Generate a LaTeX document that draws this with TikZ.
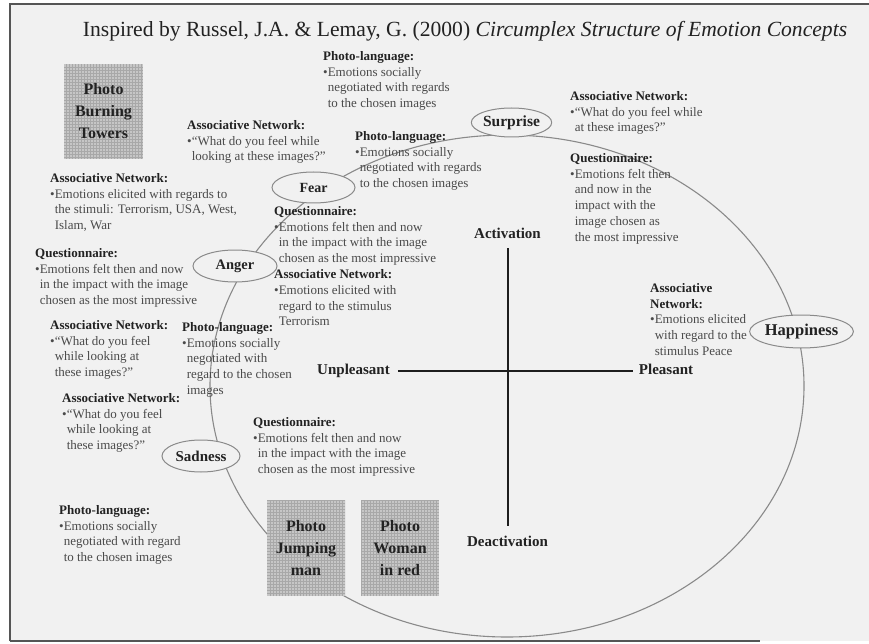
\documentclass[tikz,border=0pt]{standalone}
\usepackage{fontspec}
\setmainfont{Liberation Serif}
\usetikzlibrary{shapes.geometric}
\definecolor{bg}{HTML}{F1F1F1}
\definecolor{ringcol}{HTML}{8A8A8A}
\definecolor{headtxt}{HTML}{222222}
\definecolor{bodytxt}{HTML}{4A4A4A}
\definecolor{photofill}{HTML}{C6C6C6}
\definecolor{photogrid}{HTML}{A8A8A8}
\definecolor{framecol}{HTML}{555555}
\definecolor{axiscol}{HTML}{1E1E1E}
\newcommand\hdg[1]{{\color{headtxt}\bfseries #1}}
\newcommand\bind{\phantom{•}}
\begin{document}
\begin{tikzpicture}[x=1pt,y=-1pt,
  body/.style={anchor=north west,inner sep=0pt,align=left,text=bodytxt,font=\fontsize{13}{15.8}\selectfont},
  emo/.style={ellipse,draw=ringcol,line width=1pt,fill=bg,inner sep=0pt,text=headtxt},
  axlab/.style={font=\bfseries\fontsize{15}{18}\selectfont,text=headtxt,inner sep=0pt,text height=10pt,text depth=3pt},
  axisline/.style={draw=axiscol,line width=2pt},
  photo/.style={rectangle,fill=photofill,minimum width=78pt,minimum height=96pt,inner sep=0pt,align=center,
    font=\bfseries\fontsize{16}{22}\selectfont,text=headtxt,
    path picture={\draw[photogrid,line width=0.5pt,step=3pt] (path picture bounding box.south west) grid (path picture bounding box.north east);}},
  framestyle/.style={draw=framecol,line width=2pt}
]
\useasboundingbox (0,0) rectangle (869,644);
\fill[white] (0,0) rectangle (869,644);
\fill[bg] (10,4) rectangle (869,641);
\draw[framestyle] (10,641) -- (10,4) -- (869,4);
\draw[framestyle] (10,641) -- (760,641);

% title
\node[anchor=base,inner sep=0pt,font=\fontsize{21.6}{26}\selectfont,text=headtxt] (title) at (465,37)
  {Inspired by Russel, J.A. \& Lemay, G. (2000) \textit{Circumplex Structure of Emotion Concepts}};

% circumplex ring
\node[ellipse,draw=ringcol,line width=1.1pt,minimum width=594pt,minimum height=502pt,inner sep=0pt] (ring) at (507,386) {};

% photos
\node[photo,minimum width=79pt,minimum height=95pt] (burn) at (103.5,111.5) {Photo\\Burning\\Towers};
\node[photo] (jump) at (306,548) {Photo\\Jumping\\man};
\node[photo] (woman) at (400,548) {Photo\\Woman\\in red};

% text blocks
\node[body] (b1) at (323,51) {\hdg{Photo-language:}\\•Emotions socially\\\bind negotiated with regards\\\bind to the chosen images};
\node[body] (b2) at (187,120) {\hdg{Associative Network:}\\•“What do you feel while\\\bind looking at these images?”};
\node[body] (b3) at (355,131) {\hdg{Photo-language:}\\•Emotions socially\\\bind negotiated with regards\\\bind to the chosen images};
\node[body] (b4) at (570,91) {\hdg{Associative Network:}\\•“What do you feel while\\\bind at these images?”};
\node[body] (b5) at (570,153) {\hdg{Questionnaire:}\\•Emotions felt then\\\bind and now in the\\\bind impact with the\\\bind image chosen as\\\bind the most impressive};
\node[body] (b6) at (50,173) {\hdg{Associative Network:}\\•Emotions elicited with regards to\\\bind the stimuli: Terrorism, USA, West,\\\bind Islam, War};
\node[body] (b7) at (274,206) {\hdg{Questionnaire:}\\•Emotions felt then and now\\\bind in the impact with the image\\\bind chosen as the most impressive\\\hdg{Associative Network:}\\•Emotions elicited with\\\bind regard to the stimulus\\\bind Terrorism};
\node[body] (b8) at (35,248) {\hdg{Questionnaire:}\\•Emotions felt then and now\\\bind in the impact with the image\\\bind chosen as the most impressive};
\node[body] (b9) at (50,320) {\hdg{Associative Network:}\\•“What do you feel\\\bind while looking at\\\bind these images?”};
\node[body] (b10) at (182,322) {\hdg{Photo-language:}\\•Emotions socially\\\bind negotiated with\\\bind regard to the chosen\\\bind images};
\node[body] (b11) at (62,393) {\hdg{Associative Network:}\\•“What do you feel\\\bind while looking at\\\bind these images?”};
\node[body] (b12) at (253,417) {\hdg{Questionnaire:}\\•Emotions felt then and now\\\bind in the impact with the image\\\bind chosen as the most impressive};
\node[body] (b13) at (59,505) {\hdg{Photo-language:}\\•Emotions socially\\\bind negotiated with regard\\\bind to the chosen images};
\node[body] (b14) at (650,283) {\hdg{Associative}\\\hdg{Network:}\\•Emotions elicited\\\bind with regard to the\\\bind stimulus Peace};

% emotions
\node[emo,minimum width=77pt,minimum height=29pt,font=\bfseries\fontsize{15.5}{18}\selectfont] (surprise) at (511.5,122.5) {Surprise};
\node[emo,minimum width=83pt,minimum height=31pt,font=\bfseries\fontsize{14}{18}\selectfont] (fear) at (313.5,187.5) {Fear};
\node[emo,minimum width=84pt,minimum height=32pt,font=\bfseries\fontsize{14.5}{18}\selectfont] (anger) at (235,266) {Anger};
\node[emo,minimum width=78pt,minimum height=32pt,font=\bfseries\fontsize{15}{18}\selectfont] (sadness) at (201,456) {Sadness};
\node[emo,minimum width=87pt,minimum height=33pt,font=\bfseries\fontsize{16.5}{18}\selectfont] (happiness) at (801.5,331.5) {Happiness};

% axes
\node[axlab] (act) at (507.5,235) {Activation};
\node[axlab] (deact) at (507.5,543) {Deactivation};
\node[axlab] (unp) at (353.5,371) {Unpleasant};
\node[axlab] (ple) at (666,371) {Pleasant};
\draw[axisline,shorten <=6.5pt,shorten >=10.5pt] (act) -- (deact);
\draw[axisline,shorten <=8pt,shorten >=6pt] (unp) -- (ple);
\end{tikzpicture}
\end{document}
